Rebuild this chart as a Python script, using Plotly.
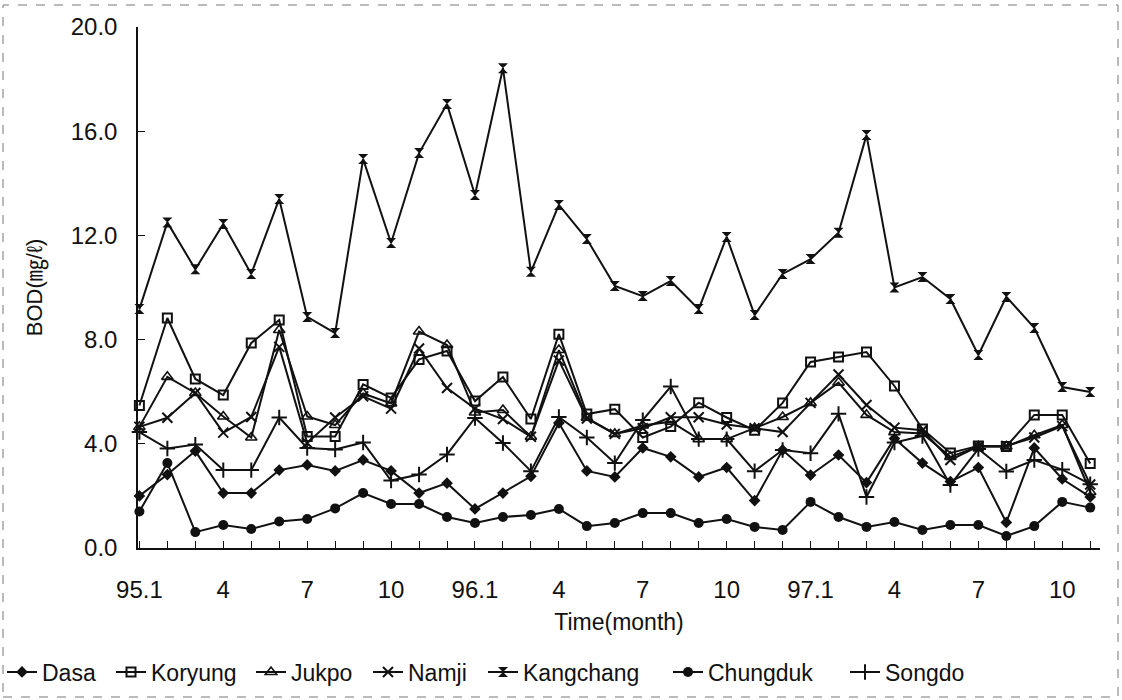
import plotly.graph_objects as go

# Monthly sampling dates, Jan 1995 - Nov 1997
months = [
    "95.1", "95.2", "95.3", "95.4", "95.5", "95.6", "95.7", "95.8", "95.9", "95.10", "95.11", "95.12",
    "96.1", "96.2", "96.3", "96.4", "96.5", "96.6", "96.7", "96.8", "96.9", "96.10", "96.11", "96.12",
    "97.1", "97.2", "97.3", "97.4", "97.5", "97.6", "97.7", "97.8", "97.9", "97.10", "97.11",
]
tick_labels = [
    "95.1", "", "", "4", "", "", "7", "", "", "10", "", "",
    "96.1", "", "", "4", "", "", "7", "", "", "10", "", "",
    "97.1", "", "", "4", "", "", "7", "", "", "10", "",
]

# BOD (mg/l) at each station
dasa = [2.00, 2.82, 3.72, 2.11, 2.11, 2.99, 3.19, 2.96, 3.38, 2.96, 2.11, 2.49,
        1.50, 2.11, 2.75, 4.80, 2.96, 2.73, 3.84, 3.50, 2.73, 3.09, 1.82, 3.76,
        2.80, 3.57, 2.51, 4.20, 3.26, 2.55, 3.09, 0.98, 3.84, 2.65, 1.96]
koryung = [5.47, 8.83, 6.49, 5.87, 7.87, 8.75, 4.28, 4.28, 6.28, 5.76, 7.24, 7.56,
           5.64, 6.56, 4.95, 8.21, 5.14, 5.33, 4.24, 4.66, 5.58, 5.01, 4.52, 5.57,
           7.14, 7.33, 7.52, 6.22, 4.57, 3.65, 3.92, 3.90, 5.11, 5.11, 3.24]
jukpo = [4.65, 6.57, 5.95, 5.05, 4.24, 8.37, 5.05, 4.72, 5.93, 5.55, 8.31, 7.79,
         5.20, 5.30, 4.27, 7.60, 5.00, 4.38, 4.70, 4.85, 4.18, 4.18, 4.60, 5.03,
         5.57, 6.35, 5.11, 4.45, 4.40, 3.50, 3.90, 3.90, 4.33, 4.72, 2.15]
namji = [4.65, 5.00, 5.95, 4.43, 5.03, 7.72, 4.03, 5.01, 5.82, 5.35, 7.66, 6.14,
         5.35, 4.95, 4.27, 7.20, 4.97, 4.38, 4.60, 5.02, 5.02, 4.74, 4.60, 4.45,
         5.57, 6.66, 5.49, 4.62, 4.52, 3.38, 3.90, 3.92, 4.24, 4.68, 2.44]
kangchang = [9.17, 12.50, 10.70, 12.44, 10.52, 13.40, 8.87, 8.25, 14.93, 11.71, 15.16, 17.04,
             13.55, 18.42, 10.60, 13.17, 11.86, 10.06, 9.67, 10.25, 9.17, 11.94, 8.94, 10.52,
             11.09, 12.10, 15.85, 10.00, 10.40, 9.56, 7.41, 9.64, 8.45, 6.18, 5.99]
chungduk = [1.40, 3.26, 0.61, 0.88, 0.73, 1.02, 1.11, 1.52, 2.11, 1.69, 1.69, 1.19,
            0.96, 1.19, 1.27, 1.50, 0.84, 0.96, 1.34, 1.34, 0.96, 1.11, 0.81, 0.69,
            1.77, 1.19, 0.81, 1.00, 0.69, 0.88, 0.88, 0.46, 0.84, 1.77, 1.55]
songdo = [4.45, 3.82, 3.97, 2.99, 2.99, 5.01, 3.84, 3.78, 4.05, 2.59, 2.82, 3.59,
          4.99, 4.03, 2.95, 5.03, 4.24, 3.26, 4.91, 6.20, 4.18, 4.18, 2.95, 3.76,
          3.64, 5.15, 1.96, 4.05, 4.30, 2.42, 3.80, 2.94, 3.38, 3.01, 2.45]

y_ticks = [0, 4, 8, 12, 16, 20]

FONT = "Liberation Sans, Arial, sans-serif"
INK = "#111111"

W, H = 1122, 700
ML, MR, MT, MB = 138, 22, 27, 152
PW, PH = W - ML - MR, H - MT - MB


def px_x(p):
    return (p - ML) / PW


def px_y(p):
    return (H - MB - p) / PH


series = [
    ("Dasa", dasa, dict(symbol="diamond", size=9, color=INK)),
    ("Koryung", koryung, dict(symbol="square-open", size=9, color=INK, line=dict(width=2, color=INK))),
    ("Jukpo", jukpo, dict(symbol="triangle-up-open", size=10, color=INK, line=dict(width=1.6, color=INK))),
    ("Namji", namji, dict(symbol="x-thin", size=10, color=INK, line=dict(width=2, color=INK))),
    ("Kangchang", kangchang, dict(symbol="hourglass", size=10, color=INK)),
    ("Chungduk", chungduk, dict(symbol="circle", size=10, color=INK)),
    ("Songdo", songdo, dict(symbol="cross-thin", size=11, color=INK, line=dict(width=2, color=INK))),
]

# left pixel of each legend entry along the bottom row
legend_left = [2, 111, 251, 368, 483, 668, 845]

fig = go.Figure()
legends = {}
for i, (name, values, marker) in enumerate(series):
    key = "legend" if i == 0 else f"legend{i + 1}"
    fig.add_trace(go.Scatter(
        x=months, y=values, name=name, mode="lines+markers",
        line=dict(color=INK, width=2), marker=marker, cliponaxis=False,
        legend=key,
    ))
    legends[key] = dict(
        orientation="h", x=px_x(legend_left[i]), xanchor="left",
        y=px_y(672), yanchor="middle",
        font=dict(size=23), itemwidth=30, bgcolor="rgba(0,0,0,0)",
    )

fig.update_layout(
    width=W, height=H,
    margin=dict(l=ML, r=MR, t=MT, b=MB, autoexpand=False),
    paper_bgcolor="white", plot_bgcolor="white",
    font=dict(family=FONT, size=24, color=INK),
    showlegend=True,
    xaxis=dict(
        type="category", range=[-0.05, 34.35], automargin=False,
        tickmode="array", tickvals=months, ticktext=tick_labels,
        ticks="inside", ticklen=7, tickcolor=INK, tickwidth=1,
        showline=True, linecolor=INK, linewidth=1.5, showgrid=False, zeroline=False,
        ticklabelstandoff=19,
        title=dict(text="Time(month)", font=dict(size=23), standoff=12),
    ),
    yaxis=dict(
        range=[0, 20], tickmode="array", tickvals=y_ticks, tickformat=".1f", automargin=False,
        ticks="inside", ticklen=7, tickcolor=INK, tickwidth=1,
        showline=True, linecolor=INK, linewidth=1.5, showgrid=False, zeroline=False,
        ticklabelstandoff=14,
        title=dict(text="BOD(㎎/ℓ)", font=dict(size=22, family="Liberation Sans, Noto Sans CJK KR, sans-serif"), standoff=22),
    ),
    shapes=[dict(
        type="rect", xref="paper", yref="paper",
        x0=px_x(3), x1=px_x(1118), y0=px_y(697), y1=px_y(5),
        line=dict(color="#777777", width=1, dash="dash"), layer="below",
    )],
    **legends,
)

fig.write_html("out.html")
